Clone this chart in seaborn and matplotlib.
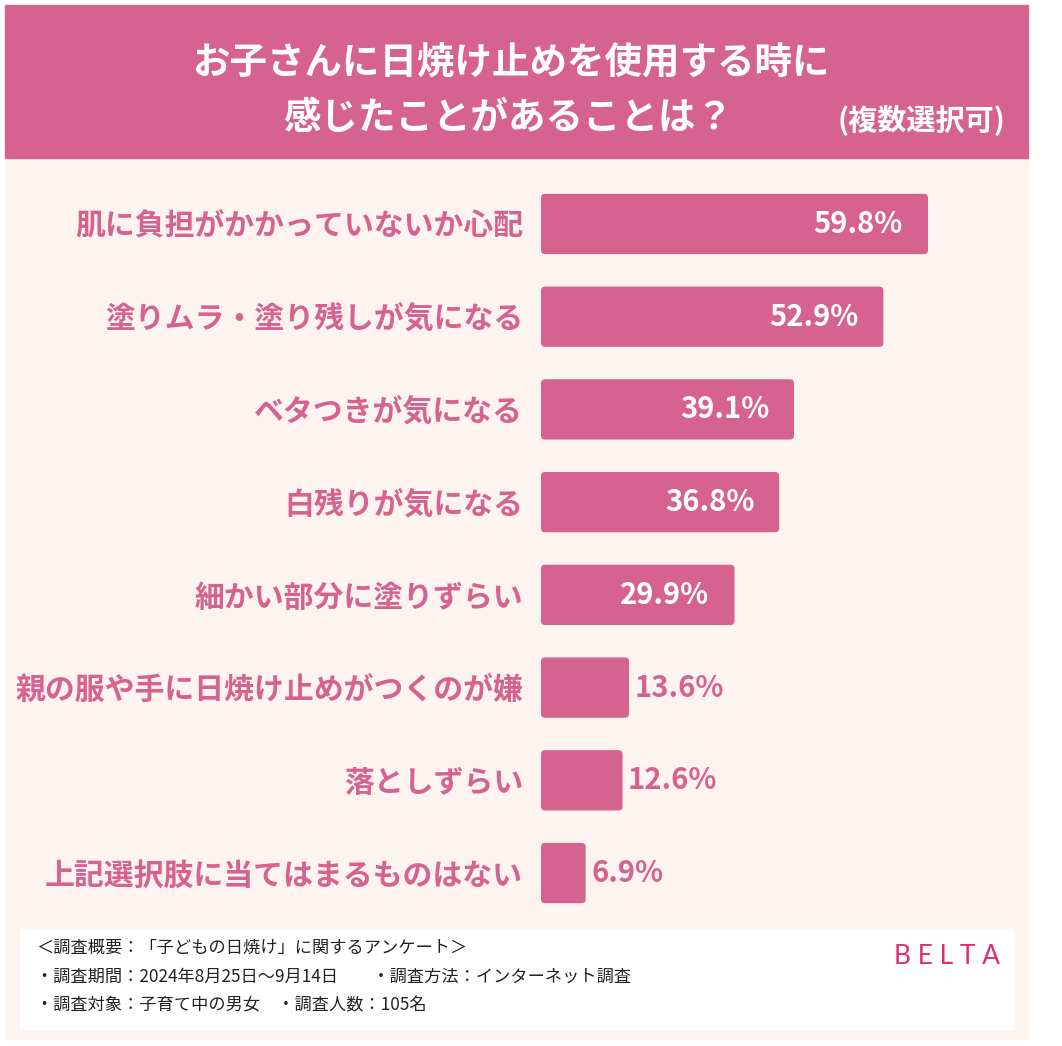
import matplotlib
matplotlib.use("Agg")
import matplotlib.pyplot as plt
from matplotlib.patches import Rectangle, FancyBboxPatch
import pandas as pd
import seaborn as sns

# data
items = [
    "肌に負担がかかっていないか心配",
    "塗りムラ・塗り残しが気になる",
    "ベタつきが気になる",
    "白残りが気になる",
    "細かい部分に塗りずらい",
    "親の服や手に日焼け止めがつくのが嫌",
    "落としずらい",
    "上記選択肢に当てはまるものはない",
]
percent = [59.8, 52.9, 39.1, 36.8, 29.9, 13.6, 12.6, 6.9]

title_1 = "お子さんに日焼け止めを使用する時に"
title_2 = "感じたことがあることは？"
note = "(複数選択可)"
footer = [
    "＜調査概要：「子どもの日焼け」に関するアンケート＞",
    "・調査期間：2024年8月25日〜9月14日　　・調査方法：インターネット調査",
    "・調査対象：子育て中の男女　・調査人数：105名",
]

PINK = "#D6628F"
CREAM = "#FDF4EF"

sns.set_theme(style="white")
plt.rcParams["font.family"] = ["Noto Sans CJK JP", "DejaVu Sans"]

W, H = 1062, 1046
fig = plt.figure(figsize=(W / 100, H / 100), dpi=100)
fig.patch.set_facecolor("white")


def px_rect(x0, y0, x1, y1, color, z):
    # pixel coords, y from top
    fig.patches.append(Rectangle((x0 / W, 1 - y1 / H), (x1 - x0) / W, (y1 - y0) / H,
                                 transform=fig.transFigure, color=color, zorder=z))


px_rect(5, 158, 1028, 1039, CREAM, -3)
px_rect(5, 5, 1028, 158, PINK, -2)
px_rect(20, 929, 1014, 1029, "white", -2)

fig.text(512 / W, 1 - 62 / H, title_1, color="white", fontsize=27, fontweight="bold",
         ha="center", va="center")
fig.text(508 / W, 1 - 118 / H, title_2, color="white", fontsize=27, fontweight="bold",
         ha="center", va="center")
fig.text(1005 / W, 1 - 120 / H, note, color="white", fontsize=21, fontweight="bold",
         ha="right", va="center")

for i, line in enumerate(footer):
    fig.text(36 / W, 1 - (948 + i * 28.5) / H, line, color="#222222", fontsize=12.4,
             ha="left", va="center")
fig.text(1000 / W, 1 - 957 / H, "B E L T A", color="#DC2F73", fontsize=19,
         ha="right", va="center", family=["Lato", "DejaVu Sans"])

# bar axes
top_px, bot_px = 224 - 46.4, 873 + 46.4
ax = fig.add_axes([541 / W, 1 - bot_px / H, 453 / W, (bot_px - top_px) / H])
ax.set_facecolor("none")

df = pd.DataFrame({"item": items, "percent": percent})
sns.barplot(data=df, x="percent", y="item", color=PINK, saturation=1, width=0.65,
            linewidth=0, ax=ax)

ax.set_xlim(0, 70)
ax.set_ylim(7.5, -0.5)

# rounded corners (~4px)
x_px = 453 / 70
y_px = (bot_px - top_px) / 8
for bar in list(ax.patches):
    rounded = FancyBboxPatch((bar.get_x(), bar.get_y()), bar.get_width(), bar.get_height(),
                             boxstyle=f"round,pad=0,rounding_size={4 / x_px}",
                             mutation_aspect=x_px / y_px, facecolor=PINK, linewidth=0)
    bar.remove()
    ax.add_patch(rounded)

ax.set_xlabel("")
ax.set_ylabel("")
ax.set_xticks([])
for s in ax.spines.values():
    s.set_visible(False)
ax.tick_params(axis="y", length=0, pad=13)
for lab in ax.get_yticklabels():
    lab.set_color(PINK)
    lab.set_fontsize(21.5)
    lab.set_fontweight("bold")

for i, v in enumerate(percent):
    if v > 20:
        ax.annotate(f"{v}%", (v, i), xytext=(-18, 0), textcoords="offset points",
                    ha="right", va="center", color="white", fontsize=21, fontweight="bold")
    else:
        ax.annotate(f"{v}%", (v, i), xytext=(4, 0), textcoords="offset points",
                    ha="left", va="center", color=PINK, fontsize=21, fontweight="bold")

fig.savefig("out.png", dpi=100, facecolor=fig.get_facecolor())
